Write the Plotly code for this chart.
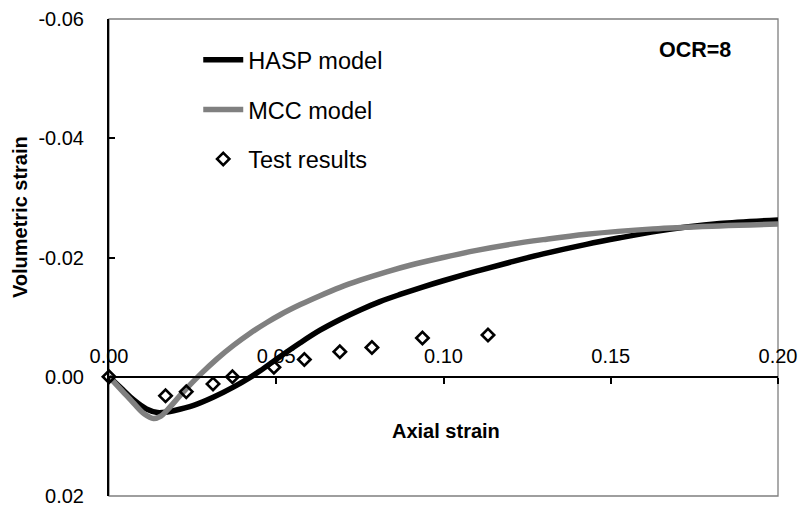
import plotly.graph_objects as go

# HASP model (black curve)
hasp_x = [0.0, 0.0040, 0.0074, 0.0112, 0.0145, 0.0174, 0.0193, 0.0253, 0.0313, 0.0373, 0.0422,
          0.0452, 0.0512, 0.0572, 0.0631, 0.0691, 0.0751, 0.0810, 0.0870, 0.0935, 0.0999,
          0.1099, 0.1199, 0.1298, 0.1427, 0.1527, 0.1626, 0.1726, 0.1825, 0.2000]
hasp_y = [0.0, 0.0021, 0.0039, 0.0054, 0.0060, 0.0059, 0.0057, 0.0048, 0.0034, 0.0017, 0.0001,
          -0.0010, -0.0034, -0.0057, -0.0078, -0.0096, -0.0112, -0.0126, -0.0138, -0.0150, -0.0161,
          -0.0177, -0.0192, -0.0206, -0.0222, -0.0233, -0.0243, -0.0251, -0.0257, -0.0263]

# MCC model (grey curve)
mcc_x = [0.0, 0.0040, 0.0074, 0.0105, 0.0133, 0.0155, 0.0174, 0.0223, 0.0273, 0.0323, 0.0373,
         0.0422, 0.0472, 0.0512, 0.0572, 0.0631, 0.0691, 0.0751, 0.0830, 0.0900, 0.0999,
         0.1099, 0.1199, 0.1298, 0.1427, 0.1626, 0.1825, 0.2000]
mcc_y = [0.0, 0.0024, 0.00445, 0.0062, 0.0070, 0.0066, 0.0056, 0.0025, -0.0004, -0.0030, -0.0053,
         -0.0073, -0.0091, -0.0104, -0.0121, -0.0136, -0.0150, -0.0162, -0.0176, -0.0187, -0.0200,
         -0.0212, -0.0222, -0.0230, -0.0239, -0.0248, -0.0253, -0.0256]

# Test results
test_x = [0.0, 0.0169, 0.0231, 0.0311, 0.0369, 0.0493, 0.0584, 0.0690, 0.0786, 0.0937, 0.1133]
test_y = [0.0, 0.0032, 0.0025, 0.0012, 0.0, -0.0016, -0.0029, -0.0042, -0.0049, -0.0065, -0.0070]

x_tick_vals = [0.0, 0.05, 0.10, 0.15, 0.20]
x_tick_text = ["0.00", "0.05", "0.10", "0.15", "0.20"]
y_tick_vals = [-0.06, -0.04, -0.02, 0.0, 0.02]
y_tick_text = ["-0.06", "-0.04", "-0.02", "0.00", "0.02"]

FONT = "Liberation Sans, Arial, sans-serif"

fig = go.Figure()
fig.add_trace(go.Scatter(x=hasp_x, y=hasp_y, mode="lines", name="HASP model",
                         line=dict(color="black", width=5.5, shape="spline", smoothing=1.0),
                         legendgroup="a", cliponaxis=False))
fig.add_trace(go.Scatter(x=mcc_x, y=mcc_y, mode="lines", name="MCC model",
                         line=dict(color="#808080", width=5.5, shape="spline", smoothing=1.0),
                         legendgroup="b", cliponaxis=False))
fig.add_trace(go.Scatter(x=test_x, y=test_y, mode="markers", name="Test results",
                         xaxis="x2",
                         marker=dict(symbol="diamond-open", size=9.5, color="black",
                                     line=dict(color="black", width=2.6)),
                         legendgroup="c", cliponaxis=False))

fig.update_layout(
    width=803, height=507,
    margin=dict(l=108.5, r=24.5, t=18.5, b=11),
    plot_bgcolor="white", paper_bgcolor="white",
    font=dict(family=FONT, color="black", size=20),
    showlegend=True,
    legend=dict(x=0.1334, y=0.960, xanchor="left", yanchor="top",
                font=dict(family=FONT, size=23.5, color="black"),
                bgcolor="rgba(0,0,0,0)", tracegroupgap=16, itemwidth=40,
                itemclick=False),
    xaxis=dict(range=[0, 0.2], tickvals=x_tick_vals, showticklabels=False,
               showgrid=False, zeroline=False, showline=True, linecolor="black", linewidth=2,
               ticks="outside", ticklen=6, tickwidth=1.5, tickcolor="black",
               anchor="free", position=0.25, automargin=False),
    xaxis2=dict(range=[0, 0.2], overlaying="x", matches="x", side="top",
                anchor="free", position=0.25, automargin=False,
                tickvals=x_tick_vals, ticktext=x_tick_text,
                showgrid=False, zeroline=False, showline=False, ticks="",
                ticklabelstandoff=10,
                tickfont=dict(family=FONT, size=20, color="black")),
    yaxis=dict(range=[0.02, -0.06], tickvals=y_tick_vals, ticktext=y_tick_text,
               showgrid=False, zeroline=False, showline=True, linecolor="black", linewidth=2,
               ticks="inside", ticklen=6, tickwidth=1.5, tickcolor="black",
               ticklabelstandoff=19, automargin=False,
               tickfont=dict(family=FONT, size=20, color="black")),
    shapes=[dict(type="rect", xref="paper", yref="paper", x0=0, x1=1, y0=0, y1=1,
                 line=dict(color="#7f7f7f", width=1.3), layer="below")],
    annotations=[
        dict(text="<b>Volumetric strain</b>", xref="paper", yref="paper",
             x=-0.132, y=0.584, textangle=-90, showarrow=False,
             xanchor="center", yanchor="middle",
             font=dict(family=FONT, size=20, color="black")),
        dict(text="<b>Axial strain</b>", xref="paper", yref="paper",
             x=0.504, y=0.136, showarrow=False,
             xanchor="center", yanchor="middle",
             font=dict(family=FONT, size=20, color="black")),
        dict(text="<b>OCR=8</b>", xref="paper", yref="paper",
             x=0.876, y=0.935, showarrow=False,
             xanchor="center", yanchor="middle",
             font=dict(family=FONT, size=21.5, color="black")),
    ],
)

fig.write_html("out.html", config={"displayModeBar": False},
               post_script="document.body.style.margin='0';document.body.style.overflow='hidden';")
